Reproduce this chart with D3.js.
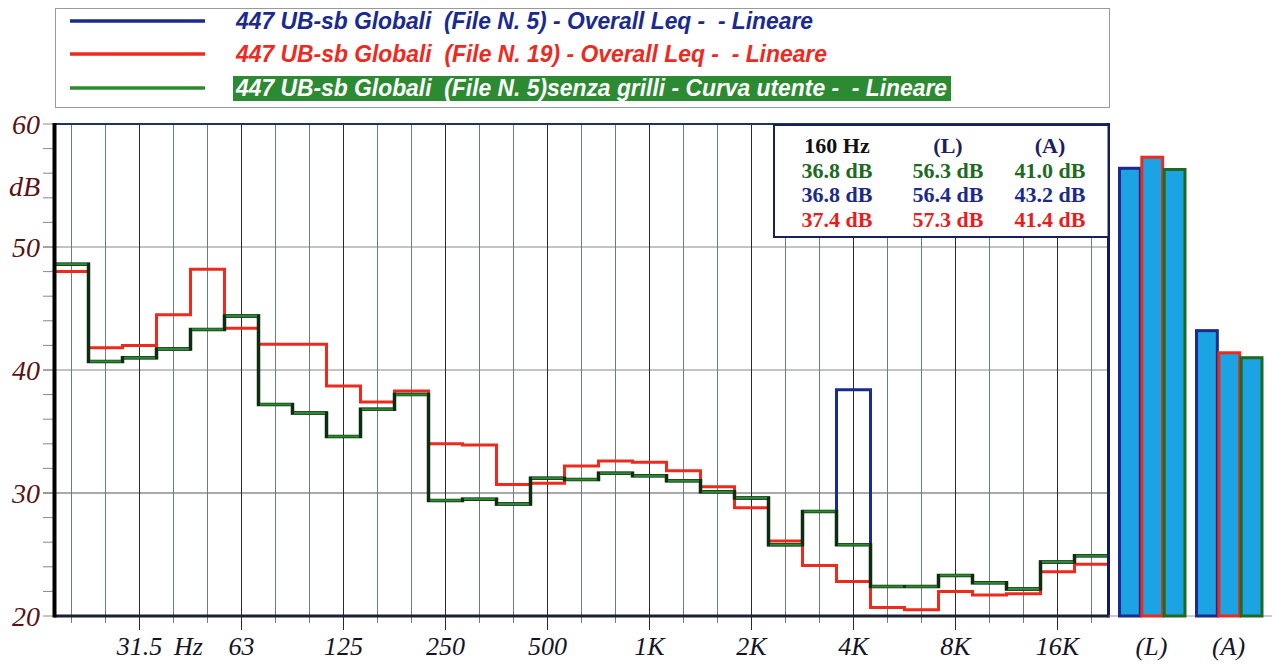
<!DOCTYPE html>
<html>
<head>
<meta charset="utf-8">
<script src="https://cdn.jsdelivr.net/npm/d3@7"></script>
<style>
  html, body { margin: 0; padding: 0; background: #fff; }
  svg { display: block; }
</style>
</head>
<body>
<svg id="chart" width="1277" height="667"></svg>
<script>
// ---------------- DATA ----------------
const bands = ["20","25","31.5","40","50","63","80","100","125","160","200","250","315","400","500","630","800","1K","1.25K","1.6K","2K","2.5K","3.15K","4K","5K","6.3K","8K","10K","12.5K","16K","20K"];
const tickLabels = ["31.5","63","125","250","500","1K","2K","4K","8K","16K"];
const yTicks = [20, 30, 40, 50, 60];

// File N. 5 - Overall Leq (blue)
const blueValues  = [48.6,40.7,41.0,41.7,43.3,44.4,37.2,36.5,34.6,36.8,38.0,29.4,29.5,29.1,31.2,31.1,31.6,31.4,31.0,30.1,29.6,25.8,28.5,38.4,22.4,22.4,23.3,22.7,22.2,24.4,24.9];
// File N. 19 - Overall Leq (red)
const redValues   = [48.0,41.8,42.0,44.5,48.2,43.4,42.1,42.1,38.7,37.4,38.3,34.0,33.9,30.7,30.8,32.2,32.6,32.5,31.8,30.5,28.8,26.1,24.1,22.8,20.7,20.5,22.0,21.7,21.8,23.6,24.2];
// File N. 5 senza grilli - Curva utente (green)
const greenValues = [48.6,40.7,41.0,41.7,43.3,44.4,37.2,36.5,34.6,36.8,38.0,29.4,29.5,29.1,31.2,31.1,31.6,31.4,31.0,30.1,29.6,25.8,28.5,25.8,22.4,22.4,23.3,22.7,22.2,24.4,24.9];

const totalCategories = ["(L)","(A)"];
const blueTotals  = [56.4, 43.2];
const redTotals   = [57.3, 41.4];
const greenTotals = [56.3, 41.0];

const legendLabels = [
  "447 UB-sb Globali  (File N. 5) - Overall Leq -  - Lineare",
  "447 UB-sb Globali  (File N. 19) - Overall Leq -  - Lineare",
  "447 UB-sb Globali  (File N. 5)senza grilli - Curva utente -  - Lineare"
];
const infoHeader = ["160 Hz", "(L)", "(A)"];
const infoRows = [
  ["36.8 dB", "56.3 dB", "41.0 dB"],
  ["36.8 dB", "56.4 dB", "43.2 dB"],
  ["37.4 dB", "57.3 dB", "41.4 dB"]
];

// ---------------- STYLE ----------------
const C = {
  blue: "#1b2a8e", red: "#ee2a1f", green: "#2c8a2e", greenDark: "#0e2d10",
  axisLabel: "#5a1212", barFill: "#1ca3e4", grid: "#6f7a82", gridDark: "#2a2a2a"
};
const serif = "'Liberation Serif','Times New Roman',serif";
const sansNarrow = "'Liberation Sans Narrow','Arial Narrow','Liberation Sans',Arial,sans-serif";

const svg = d3.select("#chart");

const plot = {left: 54.5, right: 1108.5, top: 124, bottom: 616};
const x = d3.scaleBand().domain(bands).range([plot.left, plot.right]).padding(0);
const y = d3.scaleLinear().domain([20, 60]).range([plot.bottom, plot.top]);
const bw = x.bandwidth();
const xc = b => x(b) + bw / 2;

// ---------------- LEGEND ----------------
const lg = svg.append("g");
lg.append("rect").attr("x", 55.5).attr("y", 8.5).attr("width", 1054).attr("height", 99)
  .attr("fill", "#fff").attr("stroke", "#9a9a9a").attr("stroke-width", 1);
const legendColors = [C.blue, C.red, C.green];
const legendYs = [21, 54, 88];
const legendWidths = [577, 591, 711];
legendLabels.forEach((t, i) => {
  lg.append("line").attr("x1", 70).attr("x2", 205).attr("y1", legendYs[i]).attr("y2", legendYs[i])
    .attr("stroke", legendColors[i]).attr("stroke-width", 3.5);
  if (i === 2) {
    lg.append("rect").attr("x", 233).attr("y", legendYs[i] - 12).attr("width", 718).attr("height", 25)
      .attr("fill", "#2b8a32");
  }
  lg.append("text").attr("x", 236).attr("y", legendYs[i] + 8)
    .attr("font-family", sansNarrow).attr("font-weight", "bold").attr("font-style", "italic")
    .attr("font-size", 23)
    .attr("textLength", legendWidths[i]).attr("lengthAdjust", "spacingAndGlyphs")
    .style("white-space", "pre")
    .attr("fill", i === 2 ? "#ffffff" : legendColors[i])
    .text(t);
});

// ---------------- GRID ----------------
const g = svg.append("g");
[30, 40, 50].forEach(v => {
  g.append("line").attr("x1", 43).attr("x2", plot.right).attr("y1", y(v)).attr("y2", y(v))
    .attr("stroke", v === 30 ? "#555" : "#888").attr("stroke-width", 1);
});
d3.range(20, 61, 2).forEach(v => {
  g.append("line").attr("x1", 43).attr("x2", plot.left).attr("y1", y(v)).attr("y2", y(v))
    .attr("stroke", "#888").attr("stroke-width", 1);
});
bands.forEach(b => {
  const labeled = tickLabels.includes(b);
  g.append("line").attr("x1", xc(b)).attr("x2", xc(b)).attr("y1", plot.top).attr("y2", plot.bottom + (labeled ? 14 : 7))
    .attr("stroke", labeled ? C.gridDark : C.grid).attr("stroke-width", 1);
});

// ---------------- STEP LINES ----------------
function stepPoints(vals) {
  const pts = [];
  bands.forEach((b, i) => { pts.push([x(b), y(vals[i])]); pts.push([x(b) + bw, y(vals[i])]); });
  return pts;
}
const line = d3.line();
const lines = svg.append("g").attr("fill", "none").attr("stroke-linejoin", "miter");
lines.append("path").attr("d", line(stepPoints(blueValues))).attr("stroke", C.blue).attr("stroke-width", 3);
lines.append("path").attr("d", line(stepPoints(redValues))).attr("stroke", C.red).attr("stroke-width", 3);
lines.append("path").attr("d", line(stepPoints(greenValues))).attr("stroke", C.greenDark).attr("stroke-width", 3.5);
bands.forEach((b, i) => {
  lines.append("line").attr("x1", x(b) + 1.5).attr("x2", x(b) + bw - 1.5)
    .attr("y1", y(greenValues[i])).attr("y2", y(greenValues[i]))
    .attr("stroke", C.green).attr("stroke-width", 2.2);
});

// ---------------- FRAME ----------------
const fr = svg.append("g");
fr.append("line").attr("x1", plot.left).attr("x2", plot.right).attr("y1", plot.top).attr("y2", plot.top)
  .attr("stroke", "#1d3560").attr("stroke-width", 2);
fr.append("line").attr("x1", plot.left).attr("x2", plot.right).attr("y1", plot.bottom).attr("y2", plot.bottom)
  .attr("stroke", "#1a2030").attr("stroke-width", 3);
fr.append("line").attr("x1", plot.left).attr("x2", plot.left).attr("y1", plot.top - 1).attr("y2", plot.bottom + 1.5)
  .attr("stroke", "#000").attr("stroke-width", 4);
fr.append("line").attr("x1", plot.right).attr("x2", plot.right).attr("y1", plot.top - 1).attr("y2", plot.bottom + 1.5)
  .attr("stroke", "#141a5a").attr("stroke-width", 3);

// ---------------- AXIS LABELS ----------------
const yl = svg.append("g").attr("font-family", serif).attr("font-style", "italic")
  .attr("font-size", 28).attr("fill", C.axisLabel).attr("text-anchor", "end");
yTicks.forEach(v => {
  yl.append("text").attr("x", 40).attr("y", y(v) + 10).text(v);
});
yl.append("text").attr("x", 40).attr("y", 196).text("dB");

const xl = svg.append("g").attr("font-family", serif).attr("font-style", "italic")
  .attr("font-size", 26).attr("fill", "#141428").attr("text-anchor", "middle");
tickLabels.forEach(t => {
  xl.append("text").attr("x", xc(t)).attr("y", 655).text(t);
});
xl.append("text").attr("x", xc("31.5") + 49).attr("y", 655).text("Hz");

// ---------------- INFO BOX ----------------
const ib = svg.append("g");
ib.append("rect").attr("x", 774).attr("y", 125).attr("width", plot.right - 774).attr("height", 112)
  .attr("fill", "#fff").attr("stroke", "#16205a").attr("stroke-width", 2);
const colX = [837, 948, 1050];
const rowColors = ["#1f6a1f", "#1c2a8a", "#e61e1e"];
ib.selectAll("text.h").data(infoHeader).join("text")
  .attr("x", (d, i) => colX[i]).attr("y", 153)
  .attr("text-anchor", "middle").attr("font-family", serif).attr("font-weight", "bold")
  .attr("font-size", 22).attr("fill", (d, i) => i === 0 ? "#111" : "#1a2060").text(d => d);
infoRows.forEach((row, r) => {
  row.forEach((t, c) => {
    ib.append("text").attr("x", colX[c]).attr("y", 177.5 + r * 24.5)
      .attr("text-anchor", "middle").attr("font-family", serif).attr("font-weight", "bold")
      .attr("font-size", 22).attr("fill", rowColors[r]).text(t);
  });
});

// ---------------- TOTAL BARS ----------------
const xg = d3.scaleBand().domain(totalCategories).range([1108, 1272]).paddingInner(0.13).paddingOuter(0.13);
const seriesNames = ["blue", "red", "green"];
const xs = d3.scaleBand().domain(seriesNames).range([0, xg.bandwidth()]);
const totals = {blue: blueTotals, red: redTotals, green: greenTotals};
const strokes = {blue: C.blue, red: C.red, green: "#1f6a1f"};
svg.append("line").attr("x1", plot.right).attr("x2", 1272).attr("y1", plot.bottom).attr("y2", plot.bottom)
  .attr("stroke", "#999").attr("stroke-width", 1);
const bars = svg.append("g");
totalCategories.forEach((cat, ci) => {
  seriesNames.forEach(s => {
    const v = totals[s][ci];
    bars.append("rect")
      .attr("x", xg(cat) + xs(s) + 1.5).attr("y", y(v))
      .attr("width", xs.bandwidth() - 1.5).attr("height", y(20) - y(v))
      .attr("fill", C.barFill).attr("stroke", strokes[s]).attr("stroke-width", 3);
  });
  svg.append("text").attr("x", xg(cat) + xg.bandwidth() / 2).attr("y", 655)
    .attr("text-anchor", "middle").attr("font-family", serif).attr("font-style", "italic")
    .attr("font-size", 26).attr("fill", "#141428").text(cat);
});
</script>
</body>
</html>
